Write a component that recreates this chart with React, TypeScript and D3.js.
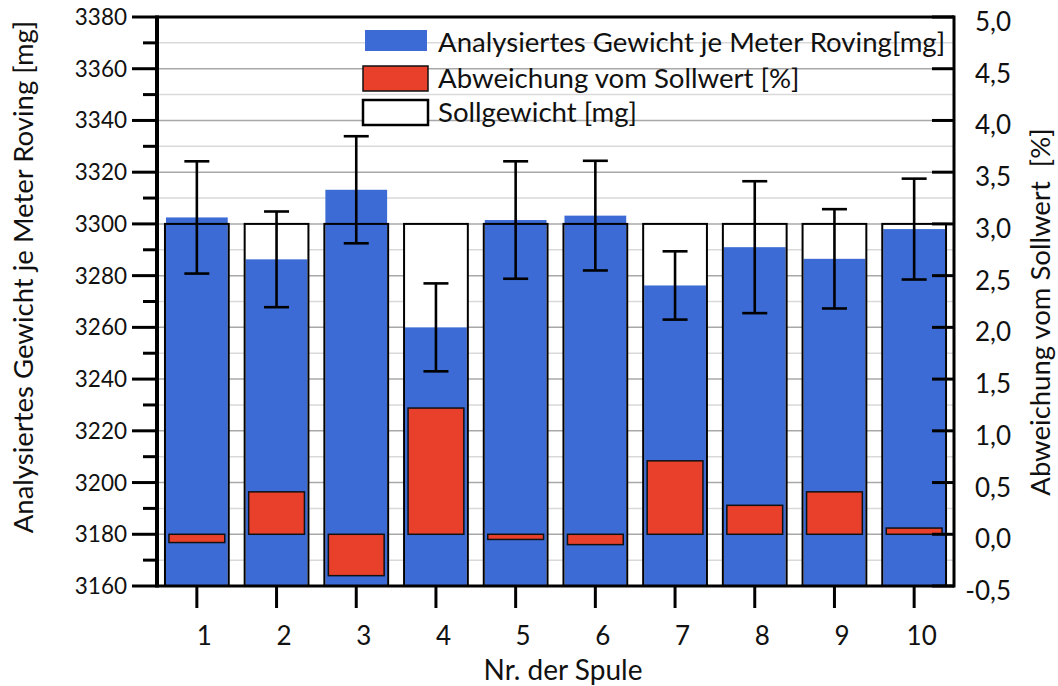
import React from 'react';
import * as d3 from 'd3';

// Messwerte je Spule
const spulen = ['1', '2', '3', '4', '5', '6', '7', '8', '9', '10'];
const gewicht = [3302.5, 3286.3, 3313.2, 3260, 3301.5, 3303.2, 3276.2, 3291, 3286.5, 3298];
const streuung = [21.7, 18.5, 20.7, 17, 22.7, 21.2, 13.2, 25.5, 19.2, 19.5];
const abweichung = [-0.08, 0.41, -0.4, 1.22, -0.05, -0.1, 0.71, 0.28, 0.41, 0.06];
const sollgewicht = 3300;

const linksTicks = [3160, 3180, 3200, 3220, 3240, 3260, 3280, 3300, 3320, 3340, 3360, 3380];
const linksMinor = [3170, 3190, 3210, 3230, 3250, 3270, 3290, 3310, 3330, 3350, 3370];
const rechtsTicks = [-0.5, 0, 0.5, 1, 1.5, 2, 2.5, 3, 3.5, 4, 4.5, 5];

const legende = [
  { label: 'Analysiertes Gewicht je Meter Roving[mg]', fill: '#3c6bd6', stroke: 'none' },
  { label: 'Abweichung vom Sollwert [%]', fill: '#e8402a', stroke: '#111' },
  { label: 'Sollgewicht [mg]', fill: '#fff', stroke: '#000' },
];

const W = 1058;
const H = 686;
const FONT = 'Lato, "Noto Sans", sans-serif';
const BLUE = '#3c6bd6';
const RED = '#e8402a';

export default function App() {
  const left = 157;
  const right = 954;
  const top = 17;
  const bottom = 586;

  const x = d3.scaleBand().domain(spulen).range([left, right]).paddingInner(0.2).paddingOuter(0.1);
  const xRed = d3.scaleBand().domain(spulen).range([left, right]).paddingInner(0.3).paddingOuter(0.15);
  const y = d3.scaleLinear().domain([3160, 3380]).range([bottom, top]);
  const yR = d3.scaleLinear().domain([-0.5, 5.0]).range([bottom, top]);

  const fmt = (v: number) => v.toFixed(1).replace('.', ',');
  const mid = (s: string) => (x(s) as number) + x.bandwidth() / 2;

  return (
    <div style={{ position: 'absolute', left: 0, top: 0 }}>
      <svg width={W} height={H} style={{ display: 'block', background: '#fff' }} fontFamily={FONT}>
        {/* gridlines */}
        {linksMinor.map(t => (
          <line key={'m' + t} x1={left} x2={right} y1={y(t)} y2={y(t)} stroke="#d9d9d9" strokeWidth={1.5} />
        ))}
        {linksTicks.map(t => (
          <line key={'g' + t} x1={left} x2={right} y1={y(t)} y2={y(t)} stroke="#a8a8a8" strokeWidth={1.5} />
        ))}

        {/* Sollgewicht background */}
        {spulen.map(s => (
          <rect key={'sw' + s} x={x(s)} y={y(sollgewicht)} width={x.bandwidth()} height={y(3160) - y(sollgewicht)} fill="#fff" />
        ))}
        {/* analysiertes Gewicht */}
        {spulen.map((s, i) => (
          <rect key={'b' + s} x={(x(s) as number) + 1} y={y(gewicht[i])} width={x.bandwidth() - 2} height={y(3160) - y(gewicht[i])} fill={BLUE} />
        ))}
        {/* Sollgewicht outline */}
        {spulen.map(s => (
          <rect key={'so' + s} x={x(s)} y={y(sollgewicht)} width={x.bandwidth()} height={y(3160) - y(sollgewicht)} fill="none" stroke="#000" strokeWidth={2} />
        ))}
        {/* Abweichung */}
        {spulen.map((s, i) => (
          <rect key={'r' + s} x={xRed(s)} y={yR(Math.max(0, abweichung[i]))} width={xRed.bandwidth()}
            height={Math.abs(yR(abweichung[i]) - yR(0))} fill={RED} stroke="#111" strokeWidth={1.5} />
        ))}
        {/* error bars */}
        {spulen.map((s, i) => {
          const cx = mid(s);
          const y1 = y(gewicht[i] + streuung[i]);
          const y2 = y(gewicht[i] - streuung[i]);
          return (
            <g key={'e' + s} stroke="#000" strokeWidth={2.6}>
              <line x1={cx} x2={cx} y1={y1} y2={y2} />
              <line x1={cx - 12.5} x2={cx + 12.5} y1={y1} y2={y1} />
              <line x1={cx - 12.5} x2={cx + 12.5} y1={y2} y2={y2} />
            </g>
          );
        })}

        {/* legend */}
        {legende.map((d, i) => {
          const ly = [30, 66, 100][i];
          return (
            <g key={d.label}>
              <rect x={i === 0 ? 365 : 363} y={ly} width={i === 0 ? 62 : 65} height={i === 0 ? 21 : 25}
                fill={d.fill} stroke={d.stroke} strokeWidth={i === 2 ? 2.5 : 1.5} />
              <text x={438} y={[52, 88, 122][i]} fontSize={27.6} fill="#111">{d.label}</text>
            </g>
          );
        })}

        {/* left axis */}
        {linksMinor.map(t => (
          <line key={'lm' + t} x1={left - 14} x2={left} y1={y(t)} y2={y(t)} stroke="#000" strokeWidth={3} />
        ))}
        {linksTicks.map(t => (
          <g key={'lt' + t}>
            <line x1={left - 25} x2={left} y1={y(t)} y2={y(t)} stroke="#000" strokeWidth={3} />
            <text x={127} y={y(t) + 8} textAnchor="end" fontSize={22.5} fill="#111">{t}</text>
          </g>
        ))}
        {/* right axis */}
        {rechtsTicks.map(t => (
          <g key={'rt' + t}>
            <line x1={right - 22} x2={right} y1={yR(t)} y2={yR(t)} stroke="#000" strokeWidth={3} />
            <text x={1011} y={yR(t) + 14} textAnchor="end" fontSize={26} fill="#111">{fmt(t)}</text>
          </g>
        ))}
        {/* bottom axis */}
        {spulen.map(s => (
          <g key={'bt' + s}>
            <line x1={mid(s)} x2={mid(s)} y1={bottom} y2={bottom + 22} stroke="#000" strokeWidth={3} />
            <text x={mid(s) + 7.5} y={645} textAnchor="middle" fontSize={26} fill="#111">{s}</text>
          </g>
        ))}

        {/* frame */}
        <line x1={left} x2={left} y1={top - 1.5} y2={bottom + 1.5} stroke="#000" strokeWidth={4} />
        <line x1={right} x2={right} y1={top - 1.5} y2={bottom + 1.5} stroke="#000" strokeWidth={3} />
        <line x1={left} x2={right} y1={top} y2={top} stroke="#000" strokeWidth={3} />
        <line x1={left} x2={right} y1={bottom} y2={bottom} stroke="#000" strokeWidth={3} />

        {/* axis titles */}
        <text transform={`translate(33, 277) rotate(-90)`} textAnchor="middle" fontSize={27.5} fill="#111">
          Analysiertes Gewicht je Meter Roving [mg]
        </text>
        <text transform={`translate(1050, 312) rotate(-90)`} textAnchor="middle" fontSize={27.5} fill="#111"
          style={{ whiteSpace: 'pre' }}>
          {'Abweichung vom Sollwert  [%]'}
        </text>
        <text x={563} y={680} textAnchor="middle" fontSize={28} fill="#111">Nr. der Spule</text>
      </svg>
    </div>
  );
}
